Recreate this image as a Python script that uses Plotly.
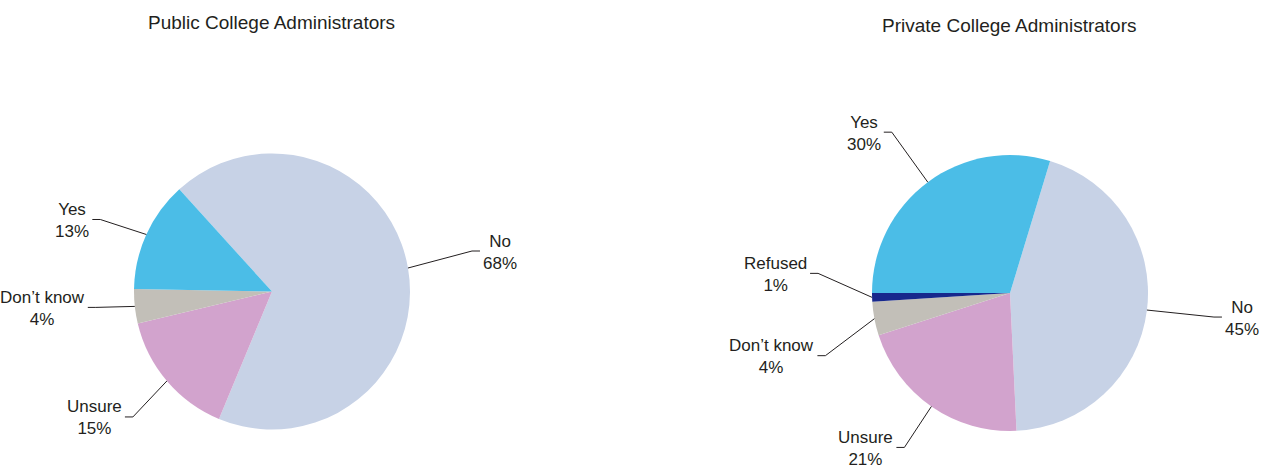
import math
import plotly.graph_objects as go

# Survey responses (percent of respondents)
public_labels = ["No", "Unsure", "Don’t know", "Yes"]
public_values = [68, 15, 4, 13]

private_labels = ["No", "Unsure", "Don’t know", "Refused", "Yes"]
private_values = [45, 21, 4, 1, 30]

titles = ["Public College Administrators", "Private College Administrators"]

colors = {
    "No": "#C7D2E6",
    "Unsure": "#D2A3CD",
    "Don’t know": "#C2BFB8",
    "Refused": "#17288C",
    "Yes": "#4BBDE7",
}

W, H = 1268, 474
R = 138
TEXT = "#231F20"
FONT = "Liberation Sans, Arial, sans-serif"

# Pie placement (pixel centres) and start angle of the first slice
pies = [
    dict(labels=public_labels, values=public_values, cx=272, cy=291.5, rot=-42.2,
         title_y=23,
         # elbow offsets of each leader line from the slice's outer midpoint
         elbows={"No": (64, -17), "Unsure": (-34, 36), "Don’t know": (-39, 1), "Yes": (-46, -15)}),
    dict(labels=private_labels, values=private_values, cx=1010, cy=293, rot=16.9,
         title_y=25,
         elbows={"No": (67, 7), "Unsure": (-27, 41), "Don’t know": (-49, 37),
                 "Refused": (-54, -24), "Yes": (-36, -50)}),
]


def px(x, y):
    return x / W, 1 - y / H


fig = go.Figure()
shapes = []
annotations = []

for p, title in zip(pies, titles):
    cx, cy = p["cx"], p["cy"]
    x0, y1 = px(cx - R, cy - R)
    x1, y0 = px(cx + R, cy + R)
    fig.add_trace(go.Pie(
        labels=p["labels"], values=p["values"], sort=False, direction="clockwise",
        rotation=p["rot"], textinfo="none", hoverinfo="label+percent",
        marker=dict(colors=[colors[l] for l in p["labels"]], line=dict(width=0)),
        domain=dict(x=[x0, x1], y=[y0, y1]), showlegend=False,
    ))

    tx, ty = px(cx - 1, p["title_y"])
    annotations.append(dict(text=title, x=tx, y=ty, xref="paper", yref="paper",
                            showarrow=False, xanchor="center", yanchor="middle",
                            font=dict(family=FONT, size=19, color=TEXT)))

    total = sum(p["values"])
    cum = 0
    for lab, val in zip(p["labels"], p["values"]):
        mid = math.radians(p["rot"] + 360 * (cum + val / 2) / total)
        cum += val
        ex, ey = cx + R * math.sin(mid), cy - R * math.cos(mid)
        ox, oy = p["elbows"][lab]
        bx, by = ex + ox, ey + oy
        side = 1 if ox > 0 else -1
        hx = bx + side * 8
        pts = [px(ex, ey), px(bx, by), px(hx, by)]
        path = "M " + " L ".join(f"{a:.5f},{b:.5f}" for a, b in pts)
        shapes.append(dict(type="path", path=path, xref="paper", yref="paper",
                           line=dict(color=TEXT, width=1)))
        ax_, ay_ = px(hx + side * 1, by + 1)
        annotations.append(dict(text=f"{lab}<br>{val}%", x=ax_, y=ay_,
                                xref="paper", yref="paper", showarrow=False,
                                xanchor="left" if side > 0 else "right",
                                yanchor="middle", align="center",
                                font=dict(family=FONT, size=17, color=TEXT)))

fig.update_layout(
    width=W, height=H, margin=dict(l=0, r=0, t=0, b=0),
    paper_bgcolor="white", plot_bgcolor="white",
    shapes=shapes, annotations=annotations,
)

fig.write_html("out.html")
